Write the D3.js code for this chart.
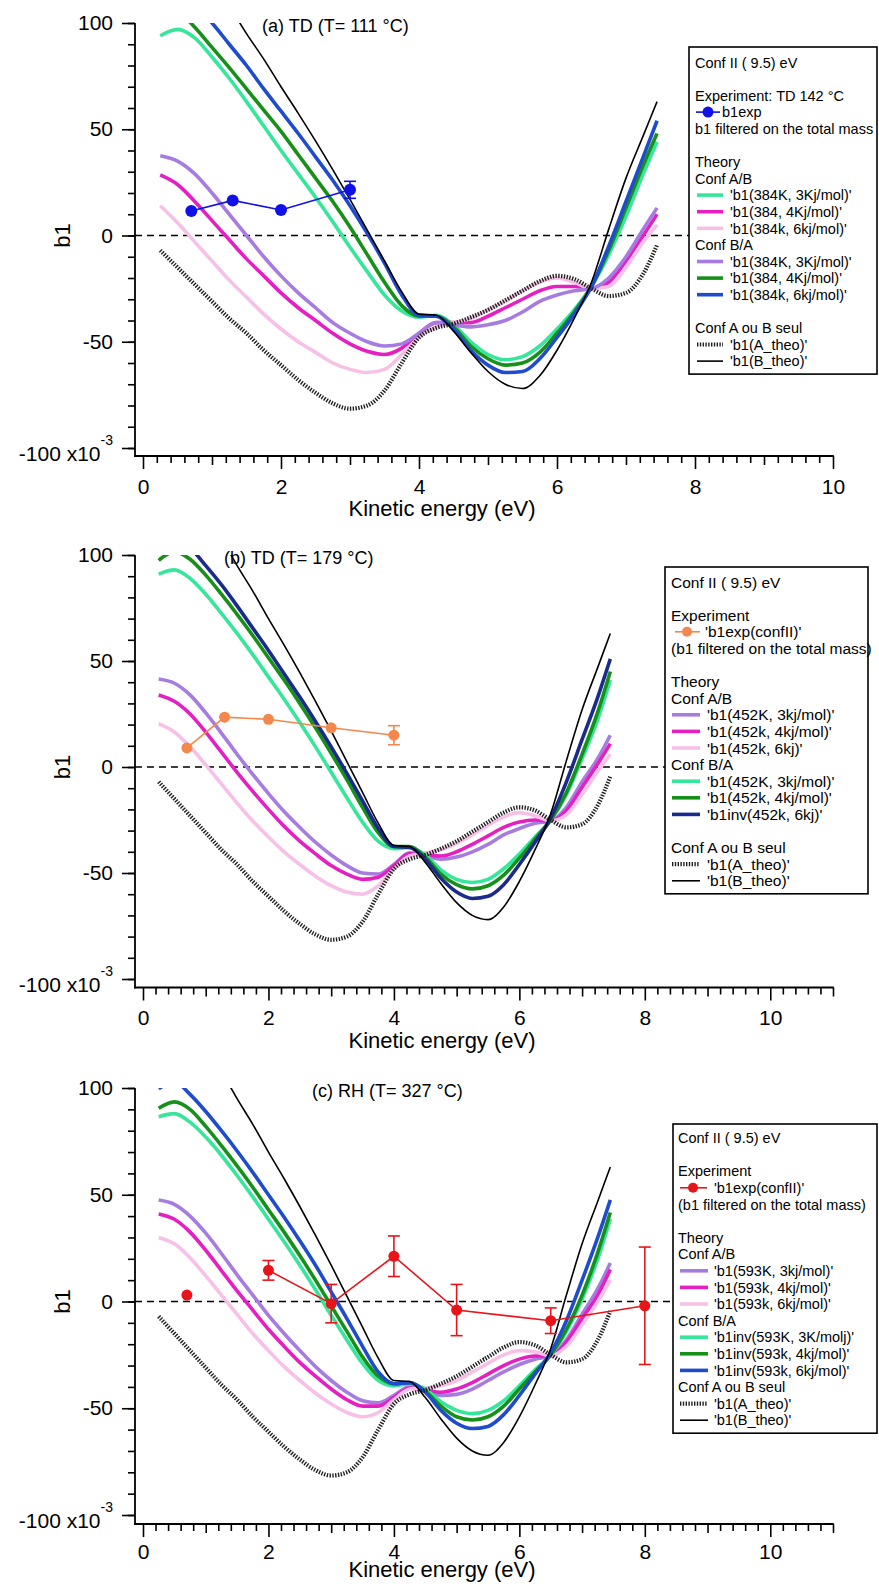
<!DOCTYPE html>
<html><head><meta charset="utf-8">
<script src="https://cdn.jsdelivr.net/npm/d3@7"></script>
<style>body{margin:0;background:#fff}svg{display:block}</style>
</head><body><svg id="c" width="879" height="1584"></svg>
<script>
// ---------- DATA ----------
const energy = [0.25,0.5,0.75,1,1.25,1.5,1.75,2,2.25,2.5,2.75,3,3.25,3.5,3.75,4,4.25,4.5,4.75,5,5.25,5.5,5.75,6,6.25,6.5,6.75,7,7.25,7.45];
// shared single-conformer theory (Conf A ou B seul)
const theoA = [-7,-15,-23,-31,-39,-46,-54,-61,-68,-74,-79,-81.5,-80,-73,-60,-48,-43.5,-41.5,-38.5,-35,-30.5,-26,-21.5,-19,-20.5,-25,-28.5,-27,-18,-4.5];
const theoB = [158,146,133,120,108,95,83,70,57.5,44.5,31,17,2.5,-12,-26.5,-37,-37.5,-45,-55,-64,-70,-72,-66,-54,-39,-22,3,27,47,63];
// panel (a) TD 111 °C
const aMint = [94,97,93,84,74,63,51.5,40,29,18,6.5,-5.5,-17,-28,-35.5,-38.5,-37.5,-42,-50,-56,-58.5,-57,-52,-44,-35,-24,-9,9,29,44];
const aMagenta = [28.5,24,16,7,-2,-11,-19,-27,-34,-40,-46,-51,-54.5,-56,-53,-46,-41,-41,-41,-38,-34,-30,-26,-24,-24,-25,-22,-12,0,10];
const aLightPink = [14,6,-3,-12,-21,-29,-37,-44,-50,-55,-60,-63,-64.5,-63,-56,-48,-43,-41,-39,-35,-31,-26,-22,-20,-22,-25,-24,-15,-3,5];
const aPurple = [37.5,35,29,20,10,0,-10,-19,-27,-34,-41,-46,-50,-52,-51,-46,-41,-42,-43,-42,-40,-36,-31,-28,-26,-25,-20,-10,3,13];
const aGreen = [110,106,98,88.5,79,69,59,49,38,27,16,4,-9,-22,-33,-38,-38,-43,-52,-58,-61,-60,-55,-46,-36,-24,-7,13,33,48];
const aBlue = [120,114,108,100,90,80,69,58.5,48,37,26,14,1,-13,-28,-37.5,-38,-44,-54,-61,-64.5,-64,-58,-48,-37,-24,-5,16,37,54];
const aExpX = [0.7,1.3,2.0,3.0];
const aExpY = [11.5,16.5,12,21.5];
const aExpErr = [0,0,0,4];
// panel (b) TD 179 °C
const bPurple = [41.5,39.5,34,25.5,16,6,-3.5,-12.5,-21,-28.5,-35.5,-41.5,-46.5,-50,-50.5,-46,-40.5,-42,-43.5,-42.5,-40,-36.5,-32,-29,-26.5,-25.5,-19,-7,4,15];
const bMagenta = [34,31,25,16.5,7,-2.5,-11.5,-20,-28,-35,-41,-46.5,-50.5,-53,-52,-46.5,-41,-41.5,-42,-40,-36.5,-32.5,-28.5,-26,-25,-25.5,-20.5,-9.5,1.5,11];
const bLightPink = [20.5,16.5,9.5,1,-8,-17,-25.5,-33,-40,-46,-51.5,-56,-59,-60,-56,-48,-42,-40.5,-39,-36,-32,-27.5,-23.5,-21.5,-23,-25.5,-22.5,-13,-2,6];
const bMint = [91,93,89,81.5,72.5,63,53,42.5,32,21,9.5,-2.5,-14.5,-26,-35,-38.5,-38,-41.5,-48.5,-53,-54.5,-53,-48,-41,-33,-25,-13,4,22.5,41];
const bGreen = [97.5,101.5,98,90.5,81.5,72,62,51.5,41,30,18.5,6.5,-6,-19,-31,-37.5,-37.5,-42.5,-50.5,-55.5,-57.5,-56,-51,-43,-34,-25,-12,6,26,45];
const bNavy = [112,109,103.5,95,86,76,65.5,55,44,33,21.5,9.5,-3,-16,-29,-37.5,-38,-43.5,-52.5,-59,-62,-61,-55.5,-46,-35.5,-24,-7,13,33,51];
const bExpX = [0.7,1.3,2,3,4];
const bExpY = [9,23.5,22.5,18.5,15];
const bExpErr = [0,0,0,0,4.5];
// panel (c) RH 327 °C
const cPurple = [47.5,45.5,40,32,22.5,12.5,3,-6.5,-15,-23,-30.5,-37,-42.5,-46.5,-47.5,-44,-40,-42,-44,-43.5,-41,-37,-33,-29.5,-27,-25.5,-18,-6,6,18];
const cMagenta = [41,38.5,32.5,24,14.5,5,-4,-13,-21,-28.5,-35,-41,-46,-49,-49,-45,-40.5,-41.5,-42.5,-41,-38,-34,-30,-27,-25.5,-25.5,-19,-8,3,15];
const cLightPink = [30,27,20.5,12,3,-6,-15,-23,-30.5,-37,-43,-48,-52,-54,-52,-46,-41,-40.5,-39.5,-37,-33,-29,-25,-23,-23.5,-25.5,-21,-11,0,10];
const cMint = [86.5,88,84,77,68.5,59,49,38.5,28,17,5.5,-6.5,-18,-29,-37,-39.5,-38.5,-41,-47,-51,-52.5,-51,-46.5,-39.5,-32,-25,-14,1,20,38.6];
const cGreen = [90.5,93.5,90,82,73,63.5,53.5,43,32.5,21.5,10,-2,-14,-26,-35,-38.5,-38,-42,-49,-54,-55.5,-54,-49,-41,-33,-25,-13,3,23,41.7];
const cBlue = [99.6,103,97,89,80,70.5,60.5,50,39.5,28.5,17,4.5,-8,-21,-33,-38.5,-38,-42.5,-51,-57,-59.5,-58.5,-53,-44,-34,-24,-9,10,30,47.6];
const cExpX = [0.7,1.3,2,3,4,5,6.5,8];
const cExpY = [3,null,14.6,-1,21.2,-4,-9,-2];
const cExpErr = [0,null,4.6,9,9.5,12,6,27.5];
// ticks and labels
const xTickLabels = [0,2,4,6,8,10];
const yTickLabels = [-100,-50,0,50,100];
const legendA = ["Conf II ( 9.5) eV","","Experiment: TD 142 °C","b1exp","b1 filtered on the total mass","","Theory","Conf A/B","'b1(384K, 3Kj/mol)'","'b1(384, 4Kj/mol)'","'b1(384k, 6kj/mol)'","Conf B/A","'b1(384K, 3Kj/mol)'","'b1(384, 4Kj/mol)'","'b1(384k, 6kj/mol)'","","Conf A ou B seul","'b1(A_theo)'","'b1(B_theo)'"];
const legendB = ["Conf II ( 9.5) eV","","Experiment","'b1exp(confII)'","(b1 filtered on the total mass)","","Theory","Conf A/B","'b1(452K, 3kj/mol)'","'b1(452k, 4kj/mol)'","'b1(452k, 6kj)'","Conf B/A","'b1(452K, 3kj/mol)'","'b1(452k, 4kj/mol)'","'b1inv(452k, 6kj)'","","Conf A ou B seul","'b1(A_theo)'","'b1(B_theo)'"];
const legendC = ["Conf II ( 9.5) eV","","Experiment","'b1exp(confII)'","(b1 filtered on the total mass)","","Theory","Conf A/B","'b1(593K, 3kj/mol)'","'b1(593k, 4kj/mol)'","'b1(593k, 6kj/mol)'","Conf B/A","'b1inv(593K, 3K/molj)'","'b1inv(593k, 4kj/mol)'","'b1inv(593k, 6kj/mol)'","Conf A ou B seul","'b1(A_theo)'","'b1(B_theo)'"];
const titles = ["(a) TD (T= 111 °C)","(b) TD (T= 179 °C)","(c) RH (T= 327 °C)"];

// ---------- STYLE ----------
const FONT = '"Liberation Sans", Arial, Helvetica, sans-serif';
const COL = {mint:'#35e69b', magenta:'#e51fc2', lightpink:'#f7c0e6', purple:'#a77ce0', green:'#17901a', blue:'#1f4ccc', navy:'#1b2b8c'};
const svg = d3.select('#c');

function drawPanel(cfg){
  const x = d3.scaleLinear().domain([0,cfg.xMax]).range([143,833]);
  const y = d3.scaleLinear().domain([-100,100]).range([cfg.yBot,cfg.yTop]);
  const axisY = cfg.yBot + cfg.axisGap;
  const g = svg.append('g');
  const cid = 'clip' + cfg.id;
  svg.append('clipPath').attr('id',cid).append('rect')
    .attr('x',135).attr('y',y(100)).attr('width',700).attr('height',y(-100)-y(100));
  // zero line
  g.append('line').attr('x1',135).attr('x2',833).attr('y1',y(0)).attr('y2',y(0))
    .attr('stroke','#000').attr('stroke-width',1.5).attr('stroke-dasharray','7 5');
  const line = d3.line().x((d,i)=>x(energy[i])).y(d=>y(d)).curve(d3.curveMonotoneX);
  const cg = g.append('g').attr('clip-path',`url(#${cid})`);
  cfg.series.forEach(s=>{
    cg.append('path').attr('d',line(s.values)).attr('fill','none')
      .attr('stroke',s.color).attr('stroke-width',s.width)
      .attr('stroke-dasharray',s.dash||null).attr('stroke-linejoin','round');
  });
  // experiment
  const pts = cfg.exp.x.map((v,i)=>({x:v,y:cfg.exp.y[i],e:cfg.exp.err[i]}));
  const el = d3.line().defined(d=>d.y!=null).x(d=>x(d.x)).y(d=>y(d.y));
  cg.append('path').attr('d',el(pts)).attr('fill','none').attr('stroke',cfg.exp.color).attr('stroke-width',1.6);
  const valid = pts.filter(d=>d.y!=null);
  valid.filter(d=>d.e>0).forEach(d=>{
    const y1=y(d.y+d.e), y2=y(d.y-d.e), cx=x(d.x);
    cg.append('line').attr('x1',cx).attr('x2',cx).attr('y1',y1).attr('y2',y2).attr('stroke',cfg.exp.color).attr('stroke-width',1.6);
    [y1,y2].forEach(yy=>cg.append('line').attr('x1',cx-6).attr('x2',cx+6).attr('y1',yy).attr('y2',yy).attr('stroke',cfg.exp.color).attr('stroke-width',1.6));
  });
  cg.selectAll('circle.m').data(valid).enter().append('circle')
    .attr('cx',d=>x(d.x)).attr('cy',d=>y(d.y)).attr('r',cfg.exp.r).attr('fill',cfg.exp.color);

  // x axis
  const xa = g.append('g').attr('transform',`translate(0,${axisY})`);
  const majors = xTickLabels.filter(v=>v<=cfg.xMax);
  const odds = d3.range(1,cfg.xMax+0.01,2);
  const minors = d3.range(0,Math.round(cfg.xMax*5)+1).map(k=>k/5).filter(v=>Math.abs(v-Math.round(v))>1e-6);
  xa.append('g').call(d3.axisBottom(x).tickValues(minors).tickSize(7).tickFormat(''));
  xa.append('g').call(d3.axisBottom(x).tickValues(odds).tickSize(9).tickFormat(''));
  xa.append('g').call(d3.axisBottom(x).tickValues(majors).tickSize(13).tickPadding(cfg.labPad).tickFormat(d3.format('d')));
  xa.selectAll('.domain').remove();
  xa.selectAll('line').attr('stroke','#000').attr('stroke-width',1.6);
  xa.selectAll('text').attr('font-size',21).attr('font-family',FONT).attr('fill','#000');
  g.append('line').attr('x1',134.2).attr('x2',833.8).attr('y1',axisY).attr('y2',axisY).attr('stroke','#000').attr('stroke-width',1.8);
  // y axis
  const ya = g.append('g').attr('transform','translate(135,0)');
  ya.append('g').call(d3.axisLeft(y).tickValues(d3.range(-100,101,10)).tickSize(7).tickFormat(''));
  ya.append('g').call(d3.axisLeft(y).tickValues(yTickLabels).tickSize(13).tickPadding(9).tickFormat(d=>d===-100?'':d));
  ya.selectAll('.domain').remove();
  ya.selectAll('line').attr('stroke','#000').attr('stroke-width',1.6);
  ya.selectAll('text').attr('font-size',21).attr('font-family',FONT).attr('fill','#000');
  g.append('line').attr('x1',135).attr('x2',135).attr('y1',y(100)).attr('y2',axisY+0.9).attr('stroke','#000').attr('stroke-width',1.8);
  const lab = g.append('text').attr('x',113).attr('y',y(-100)+13).attr('text-anchor','end')
    .attr('font-size',21).attr('font-family',FONT);
  lab.append('tspan').text('-100 x10');
  lab.append('tspan').attr('dy',-16).attr('font-size',14).text('-3');
  // axis titles
  g.append('text').attr('x',442).attr('y',axisY+cfg.titleGap).attr('text-anchor','middle')
    .attr('font-size',22).attr('font-family',FONT).text('Kinetic energy (eV)');
  g.append('text').attr('transform',`translate(70,${(y(100)+y(-100))/2}) rotate(-90)`)
    .attr('text-anchor','middle').attr('font-size',22).attr('font-family',FONT).text('b1');
  // panel title
  g.append('text').attr('x',cfg.titleX).attr('y',y(100)+8.5).attr('font-size',18).attr('font-family',FONT).text(cfg.title);

  // legend
  const L = cfg.legend;
  const rows = L.labels.length;
  const lg = svg.append('g');
  const bottom = L.firstY + (rows-1)*L.lh + 13;
  lg.append('rect').attr('x',L.x).attr('y',L.y).attr('width',L.w).attr('height',bottom-L.y)
    .attr('fill','#fff').attr('stroke','#000').attr('stroke-width',1.6);
  L.labels.forEach((t,i)=>{
    if(!t) return;
    const cy = L.firstY + i*L.lh;
    const k = L.kinds[i];
    let tx = L.plainX;
    if(k==='exp'){
      lg.append('line').attr('x1',L.expX0).attr('x2',L.expX1).attr('y1',cy).attr('y2',cy).attr('stroke',cfg.exp.color).attr('stroke-width',1.6);
      lg.append('circle').attr('cx',L.expM).attr('cy',cy).attr('r',cfg.exp.r-0.5).attr('fill',cfg.exp.color);
      tx = L.expText;
    } else if(k && k!=='t'){
      const s = cfg.series.find(d=>d.key===k);
      lg.append('line').attr('x1',L.sx0).attr('x2',L.sx1).attr('y1',cy).attr('y2',cy)
        .attr('stroke',s.color).attr('stroke-width',s.width).attr('stroke-dasharray',s.dash||null);
      tx = L.sText;
    }
    lg.append('text').attr('x',tx).attr('y',cy+0.36*L.fs).attr('font-size',L.fs).attr('font-family',FONT).text(t);
  });
}

const dotted = {key:'A', values:theoA, color:'#222', width:4.2, dash:'1.4 1.4'};
const thin = {key:'B', values:theoB, color:'#000', width:1.6};
const kindsAB = ['t','','t','exp','t','','t','t','s1','s2','s3','t','s4','s5','s6','','t','A','B'];
const kindsC = ['t','','t','exp','t','','t','t','s1','s2','s3','t','s4','s5','s6','t','A','B'];

drawPanel({id:'a', xMax:10, yTop:23, yBot:448, axisGap:8, labPad:10, titleGap:60, title:titles[0], titleX:262,
  series:[
    {key:'s1',values:aMint,color:COL.mint,width:3.6},
    {key:'s2',values:aMagenta,color:COL.magenta,width:3.6},
    {key:'s3',values:aLightPink,color:COL.lightpink,width:3.6},
    {key:'s4',values:aPurple,color:COL.purple,width:3.6},
    {key:'s5',values:aGreen,color:COL.green,width:3.6},
    {key:'s6',values:aBlue,color:COL.blue,width:3.6},
    dotted, thin],
  exp:{x:aExpX,y:aExpY,err:aExpErr,color:'#1010e8',r:6},
  legend:{labels:legendA,kinds:kindsAB,x:689,y:47,w:188,firstY:62.3,lh:16.6,fs:14.5,
    plainX:695,sx0:697,sx1:723,sText:730,expX0:696,expX1:720,expM:708,expText:722}
});
drawPanel({id:'b', xMax:11, yTop:555, yBot:979, axisGap:8.5, labPad:10, titleGap:60, title:titles[1], titleX:224,
  series:[
    {key:'s1',values:bPurple,color:COL.purple,width:3.6},
    {key:'s2',values:bMagenta,color:COL.magenta,width:3.6},
    {key:'s3',values:bLightPink,color:COL.lightpink,width:3.6},
    {key:'s4',values:bMint,color:COL.mint,width:3.6},
    {key:'s5',values:bGreen,color:COL.green,width:3.6},
    {key:'s6',values:bNavy,color:COL.navy,width:3.6},
    dotted, thin],
  exp:{x:bExpX,y:bExpY,err:bExpErr,color:'#f3874c',r:5.5},
  legend:{labels:legendB,kinds:kindsAB,x:665,y:567,w:203,firstY:582,lh:16.6,fs:15.5,
    plainX:671,sx0:672,sx1:700,sText:707,expX0:675,expX1:700,expM:687,expText:705}
});
drawPanel({id:'c', xMax:11, yTop:1088, yBot:1515, axisGap:9, labPad:7, titleGap:53, title:titles[2], titleX:312,
  series:[
    {key:'s1',values:cPurple,color:COL.purple,width:3.6},
    {key:'s2',values:cMagenta,color:COL.magenta,width:3.6},
    {key:'s3',values:cLightPink,color:COL.lightpink,width:3.6},
    {key:'s4',values:cMint,color:COL.mint,width:3.6},
    {key:'s5',values:cGreen,color:COL.green,width:3.6},
    {key:'s6',values:cBlue,color:COL.blue,width:3.6},
    dotted, thin],
  exp:{x:cExpX,y:cExpY,err:cExpErr,color:'#e8141a',r:5.5},
  legend:{labels:legendC,kinds:kindsC,x:673,y:1124,w:204,firstY:1138,lh:16.6,fs:14.5,
    plainX:678,sx0:680,sx1:708,sText:714,expX0:680,expX1:707,expM:693,expText:714}
});
</script></body></html>
